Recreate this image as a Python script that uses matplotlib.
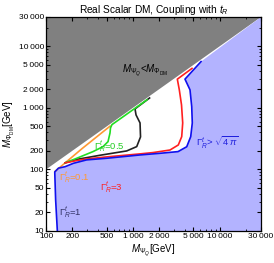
import numpy as np
import matplotlib.pyplot as plt
from matplotlib.ticker import FixedLocator, NullFormatter, LogLocator

plt.rcParams['font.family'] = ['Liberation Sans', 'DejaVu Sans']
plt.rcParams['mathtext.fontset'] = 'custom'
plt.rcParams['mathtext.rm'] = 'Liberation Sans'
plt.rcParams['mathtext.it'] = 'Liberation Sans:italic'
plt.rcParams['mathtext.bf'] = 'Liberation Sans:bold'

# contour lines: (M_Psi, M_DM) in GeV
blue_psi = [135, 129, 126, 139, 166, 207, 294, 500, 1211, 2055, 3320, 4180, 4645, 4845, 4770, 4560, 3990, 6110]
blue_dm = [10, 32, 91, 105, 111, 126, 143, 152, 172, 183, 195, 234, 341, 570, 1050, 1963, 2933, 5660]

red_psi = [166, 230, 294, 500, 1211, 1709, 2683, 3343, 3659, 3757, 3640, 3434, 3258, 4808]
red_dm = [128, 140, 148, 160, 179, 188, 207, 250, 341, 570, 1119, 1963, 2930, 4385]

black_psi = [166, 228, 419, 851, 1109, 1227, 1211, 1089, 1060, 1560]
black_dm = [128, 146, 170, 200, 235, 338, 570, 769, 964, 1450]

green_psi = [166, 226, 348, 454, 518, 546, 553, 575, 1458]
green_dm = [128, 152, 195, 235, 283, 392, 473, 535, 1356]

orange_psi = [127, 260, 546]
orange_dm = [93, 218, 505]

xmin, xmax = 100, 30000
ymin, ymax = 10, 30000
xticks = [100, 200, 500, 1000, 2000, 5000, 10000, 30000]
yticks = [10, 20, 50, 100, 200, 500, 1000, 2000, 5000, 10000, 30000]


def lab(v):
    return f"{v:,}".replace(",", "\u2009")


fig = plt.figure(figsize=(2.74, 2.63), dpi=100)
ax = fig.add_axes([0.168, 0.1217, 0.7846, 0.8137])

# excluded region above the diagonal
ax.fill([xmin, xmax, xmin], [ymin * 10, ymax, ymax], color='#808080', lw=0)
# non-perturbative region
fx = blue_psi + [xmax, xmax]
fy = blue_dm + [ymax, ymin]
ax.fill(fx, fy, color='#b3b3ff', lw=0)

ax.plot(orange_psi, orange_dm, color='#ff9933', lw=1.2)
ax.plot(black_psi, black_dm, color='#222222', lw=1.2)
ax.plot(green_psi, green_dm, color='#22dd22', lw=1.2)
ax.plot(red_psi, red_dm, color='#ff2020', lw=1.2)
ax.plot(blue_psi, blue_dm, color='#1010ee', lw=1.2)

ax.set_xscale('log')
ax.set_yscale('log')
ax.set_xlim(xmin, xmax)
ax.set_ylim(ymin, ymax)

ax.xaxis.set_major_locator(FixedLocator(xticks))
ax.yaxis.set_major_locator(FixedLocator(yticks))
ax.set_xticklabels([lab(v) for v in xticks])
ax.set_yticklabels([lab(v) for v in yticks])
ax.xaxis.set_minor_locator(LogLocator(subs=np.arange(2, 10)))
ax.yaxis.set_minor_locator(LogLocator(subs=np.arange(2, 10)))
ax.xaxis.set_minor_formatter(NullFormatter())
ax.yaxis.set_minor_formatter(NullFormatter())
ax.tick_params(which='both', direction='in', top=True, right=True, labelsize=6, pad=1.5)
ax.tick_params(which='major', length=3, width=0.8)
ax.tick_params(which='minor', length=1.5, width=0.6)
for s in ax.spines.values():
    s.set_linewidth(0.9)

ax.set_title(r'Real Scalar DM, Coupling with $t_R$', fontsize=7.3, pad=3)
ax.set_xlabel(r'$M_{\Psi_Q}$[GeV]', fontsize=7, labelpad=2)
ax.set_ylabel(r'$M_{\Phi_{\mathrm{DM}}}$[GeV]', fontsize=7, labelpad=1)

ax.text(1380, 3990, r'$M_{\Psi_Q}$<$M_{\Phi_{\mathrm{DM}}}$', fontsize=7, ha='center', va='center')
ax.text(530, 232, r'$\Gamma^{t}_{R}$=0.5', color='#22cc22', fontsize=6.8, ha='center', va='center')
ax.text(210, 73, r'$\Gamma^{t}_{R}$=0.1', color='#ff9933', fontsize=6.8, ha='center', va='center')
ax.text(560, 50, r'$\Gamma^{t}_{R}$=3', color='#ff2020', fontsize=6.8, ha='center', va='center')
ax.text(192, 19.6, r'$\Gamma^{t}_{R}$=1', color='#333366', fontsize=6.8, ha='center', va='center')
ax.text(9330, 270, r'$\Gamma^{t}_{R}$> $\sqrt{4\,\pi}$', color='#2020dd', fontsize=6.8, ha='center', va='center')

fig.savefig('out.png', dpi=100)
